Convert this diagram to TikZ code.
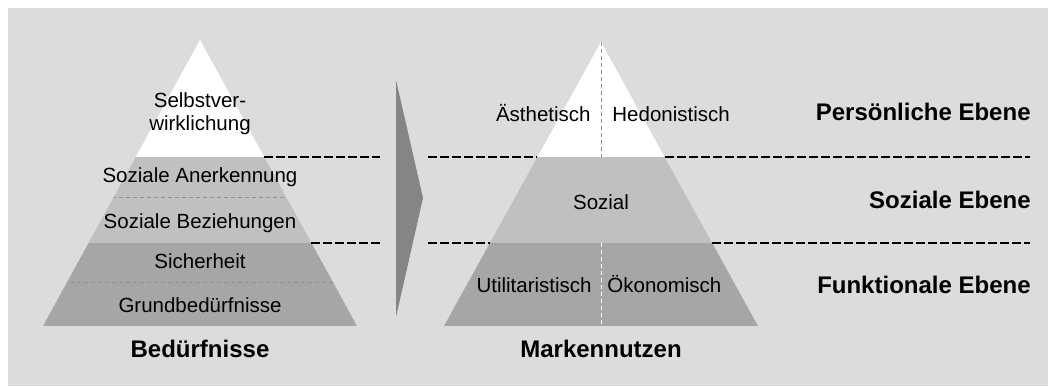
\documentclass[tikz,border=0pt]{standalone}
\usepackage{fontspec}
\setmainfont{Liberation Sans}
\usetikzlibrary{arrows, arrows.meta}
\usetikzlibrary{calc}

\definecolor{bggray}{HTML}{DCDCDC}
\definecolor{lightband}{HTML}{C0C0C0}
\definecolor{darkband}{HTML}{A6A6A6}
\definecolor{arrowgray}{HTML}{858585}
\definecolor{thingray}{HTML}{909090}

\begin{document}
\begin{tikzpicture}[x=0.5pt, y=-0.5pt,
    txt/.style={anchor=base, inner sep=0pt, font=\fontsize{10.25}{11.5}\selectfont},
    head/.style={anchor=base, inner sep=0pt, font=\fontsize{12}{14}\selectfont\bfseries},
    levelline/.style={dash pattern=on 4.25pt off 1.75pt, line width=0.75pt},
    innerline/.style={dash pattern=on 2pt off 1.5pt, line width=0.4pt}]
    \useasboundingbox (0,0) rectangle (1048,386);
    \fill[bggray] (8,8) rectangle (1048,386);

    \begin{scope}
        \clip (43,326) -- (200,40) -- (357,326) -- cycle;
        \fill[white] (0,0) rectangle (400,157);
        \fill[lightband] (0,157) rectangle (400,243);
        \fill[darkband] (0,243) rectangle (400,326);
        \draw[innerline, thingray] (0,197) -- (400,197);
        \draw[innerline, thingray] (0,282) -- (400,282);
    \end{scope}

    \begin{scope}
        \clip (444,326) -- (601,42) -- (758,326) -- cycle;
        \fill[white] (400,0) rectangle (800,157);
        \fill[lightband] (400,157) rectangle (800,243);
        \fill[darkband] (400,243) rectangle (800,326);
        \draw[innerline, thingray] (601,42) -- (601,157);
        \draw[innerline, white] (601,243) -- (601,326);
    \end{scope}

    \fill[arrowgray] (396,80) -- (423,198) -- (396,317) -- cycle;

    \coordinate (l1) at (264,157);
    \coordinate (l2) at (311,243);
    \coordinate (a1) at (380,157);
    \coordinate (a2) at (380,243);
    \coordinate (b1) at (428,157);
    \coordinate (b2) at (428,243);
    \coordinate (rl1) at (537,157);
    \coordinate (rl2) at (490,243);
    \coordinate (rr1) at (665,157);
    \coordinate (rr2) at (712,243);
    \coordinate (e1) at (1030,157);
    \coordinate (e2) at (1030,243);

    \draw[levelline] (l1) -- (a1);
    \draw[levelline] (l2) -- (a2);
    \draw[levelline] (b1) -- (rl1);
    \draw[levelline] (b2) -- (rl2);
    \draw[levelline] (rr1) -- (e1);
    \draw[levelline] (rr2) -- (e2);

    \node[txt, align=center] (selbst) at (200,130) {Selbstver-\\wirklichung};
    \node[txt] (anerk) at (200,182) {Soziale Anerkennung};
    \node[txt] (bezieh) at (200,228) {Soziale Beziehungen};
    \node[txt] (sicher) at (200,268) {Sicherheit};
    \node[txt] (grund) at (200,312) {Grundbedürfnisse};
    \node[head] (beduerf) at (200,357) {Bedürfnisse};

    \node[txt, anchor=base east] (aesth) at (591,121) {Ästhetisch};
    \node[txt, anchor=base west] (hedon) at (612,121) {Hedonistisch};
    \node[txt] (sozial) at (601,209) {Sozial};
    \node[txt, anchor=base east] (util) at (592,292) {Utilitaristisch};
    \node[txt, anchor=base west] (oekon) at (607,292) {Ökonomisch};
    \node[head] (marken) at (601,357) {Markennutzen};

    \node[head, anchor=base east] (pers) at (1031,120) {Persönliche Ebene};
    \node[head, anchor=base east] (soz) at (1031,208) {Soziale Ebene};
    \node[head, anchor=base east] (funkt) at (1031,293) {Funktionale Ebene};
\end{tikzpicture}
\end{document}
